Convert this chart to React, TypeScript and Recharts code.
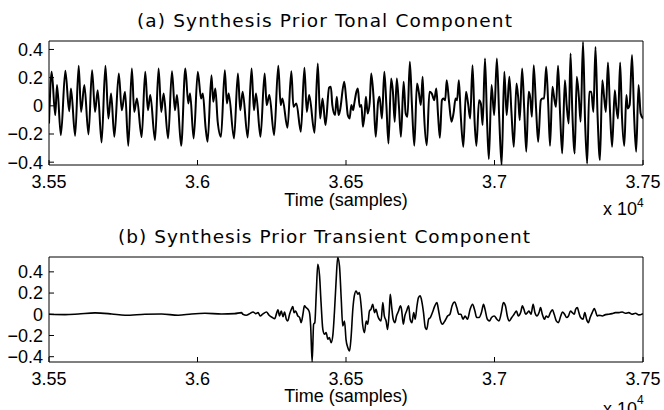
import React from 'react';
import { LineChart, Line, XAxis, YAxis } from 'recharts';

// ---- axis ticks ----
const xTicks = [35500, 36000, 36500, 37000, 37500];
const yTicks = [-0.4, -0.2, 0, 0.2, 0.4];
const xDomain = [35500, 37500];
const tonalDomain = [-0.42, 0.46];
const transientDomain = [-0.45, 0.54];

// ---- (a) tonal component: sample index / amplitude ----
const tonalT1 = [35500,35509,35521,35527,35540, 35555,35568,35574,35588, 35600,35608,35619,35633, 35645,35655,35664,35677, 35690,35700,35709,35720, 35735,35745,35756,35767, 35779,35787,35796,35812, 35824,35833,35841,35857, 35869,35878,35886,35901, 35914,35924,35931,35945, 35959,35969,35975,35987];
const tonalV1 = [-0.125,0.241,-0.066,0.147,-0.208, 0.248,-0.038,0.123,-0.213, 0.284,-0.043,0.147,-0.203, 0.253,-0.043,0.111,-0.26, 0.284,-0.09,0.087,-0.22, 0.229,-0.031,0.099,-0.284, 0.265,-0.043,0.052,-0.222, 0.241,-0.031,0.076,-0.243, 0.265,-0.043,0.087,-0.232, 0.246,-0.031,0.076,-0.284, 0.265,0.017,0.087,-0.232];
const tonalT2 = [36001,36012,36018,36027,36034, 36047,36053,36060,36068,36079, 36092,36099,36105,36123, 36136,36144,36152,36169, 36182,36190,36197,36212, 36226,36233,36242,36258, 36272,36280,36286,36303, 36316,36323,36333,36348, 36360,36368,36376,36394, 36405,36413,36421,36431, 36443,36449,36454,36463,36469,36475,36480];
const tonalV2 = [0.241,0.052,0.087,-0.149,-0.255, 0.217,0.028,0.123,-0.113,-0.22, 0.253,0.017,0.087,-0.232, 0.229,-0.031,0.099,-0.225, 0.265,-0.031,0.087,-0.22, 0.229,0.005,0.076,-0.208, 0.284,0.005,0.052,-0.156, 0.246,-0.007,0.017,-0.184, 0.27,-0.043,0.076,-0.191, 0.30,-0.09,0.052,-0.137, 0.128,0.135,0.005,-0.066,0.064,-0.066,-0.031];
const tonalT3 = [36494,36501,36506,36512,36518,36524,36528,36535,36540,36546, 36552,36557,36563,36567,36573,36580,36585,36593,36600,36608, 36613,36621,36629,36636,36643,36652,36658,36664,36671,36678, 36685,36694,36701,36707,36715,36722,36730,36739,36745,36752, 36758,36763,36772,36781,36789,36797,36804,36810,36816,36823, 36828,36834,36839,36847,36855,36862,36869,36874,36880,36886, 36895,36904,36911,36918,36926,36933,36939,36948,36954,36960, 36968,36975,36981];
const tonalV3 = [0.17,0.04,-0.066,-0.09,0.005,-0.031,0.017,0.099,0.123,-0.007, 0.005,-0.149,-0.054,0.064,-0.054,0.028,0.229,0.052,-0.22,0.028, 0.064,-0.09,0.241,0.005,-0.267,0.194,0.099,-0.113,0.194,0.005, -0.22,0.17,-0.054,-0.078,0.312,0.005,-0.284,0.158,0.099,0.005, 0.206,-0.066,-0.279,0.099,0.087,0.04,0.123,-0.066,-0.227,0.04, 0.052,0.04,0.182,0.028,-0.113,-0.054,0.052,0.04,0.182,-0.054, -0.291,0.099,0.017,-0.09,0.288,-0.113,-0.284,0.04,0.017,-0.137, 0.336,-0.113,-0.378];
const tonalT4 = [36990,36999,37008,37016,37024,37033,37041,37050,37057,37065, 37074,37080,37085,37093,37100,37107,37115,37120,37126,37132, 37140,37147,37156,37162,37167,37174,37181,37187,37195,37202, 37207,37214,37221,37228,37237,37243,37250,37256,37262,37270, 37277,37284,37290,37298,37305,37312,37319,37326,37333,37340, 37347,37355,37363,37369,37375,37382,37389,37396,37405,37410, 37416,37423,37429,37437,37444,37449,37455,37463,37470,37477, 37485,37492,37500];
const tonalV4 = [0.147,-0.066,0.336,-0.09,-0.42,0.241,-0.066,0.206,-0.043,-0.291, 0.158,0.052,-0.102,0.265,-0.019,-0.326,0.099,0.064,-0.078,0.288, -0.019,-0.255,0.04,0.052,0.052,0.277,0.005,-0.284,0.135,0.04, -0.007,0.284,-0.066,-0.338,0.182,0.005,-0.125,0.371,-0.043,-0.338, 0.206,0.064,-0.113,0.454,-0.113,-0.409,0.099,0.099,-0.043,0.418, -0.066,-0.385,0.182,0.064,-0.043,0.307,-0.043,-0.291,0.111,-0.007, -0.09,0.307,-0.066,-0.284,0.076,-0.019,0.005,0.36,-0.066,-0.326, 0.147,-0.054,-0.09];

// ---- (b) transient component: sample index / amplitude ----
const transT1 = [35500,35554,35599,35655,35711,35756,35823,35879,35935,35980,36025,36081,36125,36148];
const transV1 = [0,-0.003,0.003,0.013,0.003,-0.009,0,0.003,-0.009,0.003,0.009,0.003,0.006,0.016];
const transT2 = [36153,36164,36176,36187,36196,36204,36211,36220,36232,36241, 36252,36260,36267,36271,36276,36282,36288,36293,36299,36304, 36310,36316,36321,36325,36330,36338,36344,36349,36355,36360, 36366,36372,36377,36381,36386,36391,36395,36400,36405,36411, 36416,36422,36428,36433,36439,36444,36450,36456,36461,36467, 36472,36478,36484,36489,36495,36500,36506,36512,36517,36523, 36528,36534,36540,36545,36551,36556,36562,36568,36573,36579, 36584,36590,36596,36601,36607,36612,36618,36624,36629,36635, 36640];
const transV2 = [0,-0.009,0.006,0.022,0.006,0.016,-0.016,0.003,0.022,-0.009, -0.031,-0.041,0.016,0.041,-0.016,0.031,-0.022,0.022,-0.047,-0.063, 0,0.047,0.072,0.016,0.031,-0.016,-0.031,-0.079,0,0.079, 0.063,0.047,0.016,-0.11,-0.45,-0.094,-0.079,0.204,0.472,0.362, 0.11,-0.142,-0.189,-0.173,-0.236,-0.22,-0.267,-0.189,0.016,0.33, 0.535,0.456,0.142,-0.11,-0.063,-0.236,-0.314,-0.346,-0.22,0.047, 0.173,0.22,0.189,0.204,0.079,-0.094,-0.173,-0.063,-0.094,0.031, 0.047,0.094,0.016,0.047,-0.016,-0.047,-0.063,0.11,-0.016,-0.063, -0.142];
const transT3 = [36646,36649,36654,36659,36665,36670,36677,36683,36687,36693, 36698,36704,36711,36716,36722,36728,36733,36739,36744,36750, 36756,36761,36767,36772,36778,36784,36791,36799,36806,36812, 36817,36825,36831,36836,36842,36850,36857,36866,36873,36880, 36887,36894,36901,36909,36918,36926,36934,36940,36948,36956, 36963,36968,36976,36983,36990,36999,37008,37015,37023,37030, 37037,37043,37050];
const transV3 = [0.047,0.189,0.063,-0.047,-0.079,-0.016,0.031,0.079,0.047,-0.094, -0.016,0.031,0.079,-0.047,-0.079,0.016,-0.047,0.079,0.157,0.173, 0.11,0.016,-0.126,-0.142,-0.047,-0.031,0.016,0.079,0.11,0.031, -0.047,-0.094,-0.072,-0.047,-0.016,0,0.079,0.116,0.063,0, 0,-0.047,-0.016,-0.047,0.047,0.094,0.031,-0.031,-0.031,0.016, 0.094,0.047,-0.047,-0.063,-0.031,-0.016,-0.047,-0.063,0.016,0.11, 0.079,-0.016,-0.063];
const transT4 = [37058,37066,37074,37080,37088,37094,37099,37105,37111,37116, 37123,37130,37136,37143,37150,37155,37161,37168,37174,37181, 37188,37195,37201,37208,37215,37223,37229,37236,37243,37249, 37256,37262,37269,37273,37279,37284,37290,37298,37304,37310, 37316,37322,37329,37336,37340,37346,37351,37363,37374,37385, 37396,37407,37419,37430,37441,37452,37463,37475,37486,37500];
const transV4 = [-0.031,0,0.031,-0.016,0.016,0.079,0.047,0,0.016,0.031, 0,0.094,0.016,-0.016,0.016,0.063,0,-0.047,-0.016,-0.031, 0.016,0.041,0,-0.063,-0.079,-0.016,0.022,0,-0.031,-0.016, 0.031,0.016,0,0.047,0.063,0.016,-0.031,-0.047,0.016,-0.047, -0.079,-0.031,0.016,0.053,0.031,-0.016,-0.009,-0.016,-0.003,0, 0.006,0.016,0.016,0.022,0.009,0.016,0,0.009,-0.006,0.006];

const build = (ts: number[][], vs: number[][]) => {
  const out: { t: number; v: number }[] = [];
  ts.forEach((arr, i) => arr.forEach((t, j) => out.push({ t, v: vs[i][j] })));
  return out;
};

const tonalData = build([tonalT1, tonalT2, tonalT3, tonalT4], [tonalV1, tonalV2, tonalV3, tonalV4]);
const transientData = build([transT1, transT2, transT3, transT4], [transV1, transV2, transV3, transV4]);

const fmtX = (v: number) => String(v / 10000);
const fmtY = (v: number) => (v === 0 ? '0' : (v < 0 ? '\u2212' : '') + String(Math.abs(v)));

const tickFont = 'Liberation Sans, Arial, Helvetica, sans-serif';
const titleFont = '"DejaVu Sans", "Noto Sans", sans-serif';

function Panel({ data, domain, top, height, marginTop, marginBottom, width }: any) {
  const tickStyle = { fill: '#000', fontSize: 18, fontFamily: tickFont };
  return (
    <div style={{ position: 'absolute', left: 0, top, width: 664, height }}>
      <LineChart width={664} height={height} data={data} margin={{ top: marginTop, right: 20, bottom: marginBottom, left: 0 }}>
        <XAxis dataKey="t" type="number" domain={xDomain} ticks={xTicks} tickFormatter={fmtX} interval={0}
          height={25} tickSize={-5} tickMargin={15} stroke="#000" tick={tickStyle} allowDataOverflow />
        <XAxis xAxisId="top" dataKey="t" orientation="top" type="number" domain={xDomain} ticks={xTicks} interval={0}
          height={1} tickSize={-5} tick={false} stroke="#000" allowDataOverflow />
        <YAxis type="number" domain={domain} ticks={yTicks} width={49} tickSize={-5} tickMargin={11} interval={0}
          tickFormatter={fmtY} stroke="#000" tick={tickStyle} allowDataOverflow />
        <YAxis yAxisId="right" orientation="right" type="number" domain={domain} ticks={yTicks} width={1} interval={0}
          tickSize={-5} tick={false} stroke="#000" allowDataOverflow />
        <Line xAxisId="top" yAxisId="right" dataKey="v" type="linear" stroke="none" dot={false} isAnimationActive={false} legendType="none" />
        <Line dataKey="v" type="monotone" stroke="#000" strokeWidth={width} dot={false} isAnimationActive={false} />
      </LineChart>
    </div>
  );
}

export default function App() {
  return (
    <div style={{ position: 'absolute', left: 0, top: 0, width: 664, height: 410, background: '#fff', overflow: 'hidden' }}>
      <Panel data={tonalData} domain={tonalDomain} top={0} height={210} marginTop={40} marginBottom={20} width={2} />
      <Panel data={transientData} domain={transientDomain} top={200} height={210} marginTop={56} marginBottom={23} width={1.6} />
      <svg width={664} height={410} style={{ position: 'absolute', left: 0, top: 0, pointerEvents: 'none' }}>
        <text x={137} y={26.5} fontFamily={titleFont} fontSize={18.5} fill="#000" textLength={375}>(a) Synthesis Prior Tonal Component</text>
        <text x={346} y={206} fontFamily={tickFont} fontSize={18} fill="#000" textAnchor="middle">Time (samples)</text>
        <text x={603} y={215} fontFamily={tickFont} fontSize={18} fill="#000">x 10</text>
        <text x={637} y={207} fontFamily={tickFont} fontSize={12} fill="#000">4</text>
        <text x={118} y={243.3} fontFamily={titleFont} fontSize={18.5} fill="#000" textLength={412}>(b) Synthesis Prior Transient Component</text>
        <text x={346} y={402} fontFamily={tickFont} fontSize={18} fill="#000" textAnchor="middle">Time (samples)</text>
        <text x={603} y={414.5} fontFamily={tickFont} fontSize={18} fill="#000">x 10</text>
        <text x={637} y={404} fontFamily={tickFont} fontSize={12} fill="#000">4</text>
      </svg>
    </div>
  );
}
